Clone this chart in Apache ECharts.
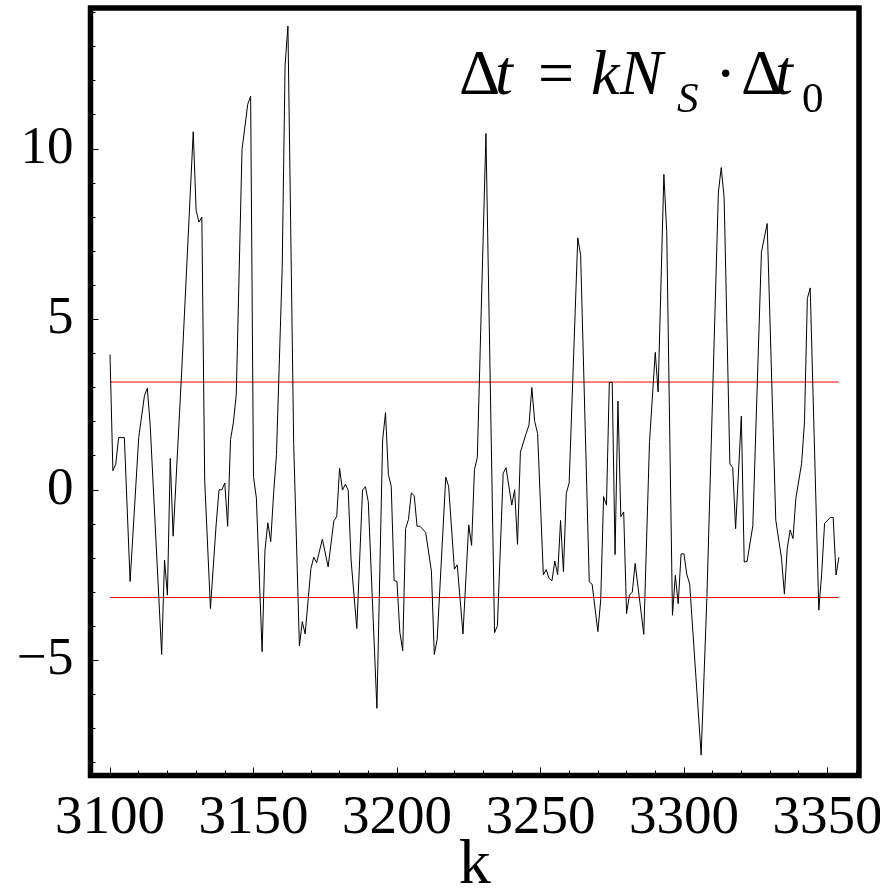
<!DOCTYPE html>
<html>
<head>
<meta charset="utf-8">
<script src="https://cdn.jsdelivr.net/npm/echarts@6/dist/echarts.min.js"></script>
<style>
  html, body { margin: 0; padding: 0; background: #fff; }
  #chart { width: 880px; height: 891px; }
</style>
</head>
<body>
<div id="chart"></div>
<script>
// k values (x) and corresponding Δt values (y)
const kValues = [
  3100,3101,3102,3103,3105,3107,3110,3112,3113,3114,3118,3119,3120,3121,3122,3125,3129,3130,3131,3132,
  3133,3135,3137,3138,3139,3140,3141,3142,3143,3144,3146,3148,3149,3150,3151,3153,3154,3155,3156,3157,
  3158,3160,3161,3162,3164,3166,3167,3168,3170,3171,3172,3174,3176,3178,3179,3180,3181,3182,3183,3184,
  3186,3188,3189,3190,3193,3195,3196,3197,3198,3199,3200,3201,3202,3203,3204,3205,3206,3207,3208,3210,
  3212,3213,3214,3217,3218,3220,3221,3223,3225,3226,3227,3228,3231,3234,3235,3237,3238,3240,3241,3242,
  3243,3245,3246,3247,3248,3249,3251,3252,3253,3254,3255,3256,3257,3258,3259,3260,3263,3264,3267,3268,
  3270,3271,3272,3273,3274,3275,3276,3277,3278,3279,3280,3281,3282,3283,3286,3288,3290,3291,3293,3294,
  3296,3297,3298,3299,3300,3301,3302,3306,3308,3312,3313,3314,3316,3317,3318,3320,3321,3322,3324,3327,
  3329,3332,3334,3335,3336,3337,3338,3339,3341,3342,3343,3344,3347,3348,3349,3351,3352,3353,3354
];
const dtValues = [
  3.97,0.56,0.75,1.53,1.53,-2.69,1.53,2.76,2.98,1.89,-4.83,-2.06,-3.09,0.92,-1.36,3.52,10.5,8.2,7.85,8.0,
  0.26,-3.48,-1.0,0.0,0.0,0.2,-1.07,1.47,1.98,2.8,9.98,11.31,11.54,0.39,-0.24,-4.75,-1.77,-0.97,-1.52,-0.12,
  1.03,6.49,12.45,13.6,1.35,-4.58,-3.87,-4.23,-2.31,-1.98,-2.14,-1.45,-2.26,-0.91,-0.79,0.63,-0.01,0.16,-0.01,-2.06,
  -4.07,-0.01,0.09,-0.35,-6.41,1.46,2.26,0.45,0.1,-2.66,-2.69,-4.18,-4.72,-1.14,-0.87,-0.09,-0.17,-1.07,-1.07,-1.25,
  -2.39,-4.83,-4.39,0.37,0.1,-2.33,-2.2,-4.23,-1.03,-1.63,0.59,0.95,10.45,-4.19,-3.99,0.48,0.65,-0.45,0.0,-1.6,
  1.1,1.65,1.9,3.0,2.0,1.65,-2.49,-2.34,-2.6,-2.67,-2.09,-2.49,-0.9,-2.4,-0.1,0.2,7.39,6.88,-2.70,-2.77,
  -4.16,-3.23,-0.2,-0.45,3.15,3.15,-1.9,2.6,-0.79,-0.65,-3.63,-3.09,-3.0,-2.16,-4.24,1.41,4.03,2.87,9.25,7.57,
  -3.68,-2.51,-3.34,-1.88,-1.88,-2.48,-2.77,-7.78,-3.13,8.73,9.45,8.56,0.76,0.65,-1.14,2.16,-2.12,-2.1,-1.06,6.97,
  7.81,-0.89,-2.01,-3.06,-1.72,-1.18,-1.43,-0.25,0.77,1.99,5.61,5.92,-3.53,-2.45,-0.99,-0.81,-0.81,-2.5,-1.98
];
const threshold = 3.16;
const xTickLabels = [3100, 3150, 3200, 3250, 3300, 3350];
const xMinorTicks = [3110,3120,3130,3140,3160,3170,3180,3190,3210,3220,3230,3240,3260,3270,3280,3290,3310,3320,3330,3340,3360];
const yTickLabels = [-5, 0, 5, 10];
const yMinorTicks = [-8,-7,-6,-4,-3,-2,-1,1,2,3,4,6,7,8,9,11,12,13,14];
// formula pieces: text, italic?, subscript?
const formulaText = ['\u0394', 't', '=', 'k', 'N', 'S', '\u00b7', '\u0394', 't', '0'];
const formulaItalic = [false, true, false, true, true, true, false, false, true, false];
const formulaSub = [false, false, false, false, false, true, false, false, false, true];

const FAM = "Liberation Serif";
const X_MIN = 3093.2, X_MAX = 3361.0;
const Y_MIN = -8.38, Y_MAX = 14.13;

const chart = echarts.init(document.getElementById('chart'), null, { renderer: 'canvas' });

const mainData = kValues.map((k, i) => [k, dtValues[i]]);
const kFirst = kValues[0], kLast = kValues[kValues.length - 1];

// left positions of formula glyphs (layout), main baseline and subscript baseline
const formulaX = [459, 495, 538, 591, 620, 677, 715, 741, 775, 802];
const MAIN_SIZE = 64, SUB_SIZE = 43;
const MAIN_BASE = 99, SUB_BASE = 115;
const formulaGraphics = formulaText.map((t, i) => {
  const size = formulaSub[i] ? SUB_SIZE : MAIN_SIZE;
  const base = formulaSub[i] ? SUB_BASE : MAIN_BASE;
  return {
    type: 'text', x: formulaX[i], y: base - 0.3375 * size, z: 10,
    style: {
      text: t,
      font: (formulaItalic[i] ? 'italic ' : '') + size + 'px "' + FAM + '"',
      fill: '#000', align: 'left', verticalAlign: 'middle'
    }
  };
});

const option = {
  animation: false,
  backgroundColor: '#fff',
  grid: {
    left: 90.5, right: 21, top: 8, bottom: 115.5,
    outerBoundsMode: 'none', containLabel: false,
    show: true, borderColor: '#000', borderWidth: 5.5, backgroundColor: 'transparent'
  },
  xAxis: [
    {
      type: 'value', min: X_MIN, max: X_MAX,
      axisLine: { show: false, onZero: false }, splitLine: { show: false },
      axisTick: { show: true, inside: true, length: 8, customValues: xTickLabels, lineStyle: { color: '#000', width: 1 } },
      axisLabel: { customValues: xTickLabels, fontFamily: FAM, fontSize: 55, color: '#000', margin: 16,
        formatter: v => String(v) },
      name: 'k', nameLocation: 'middle', nameGap: 59, nameMoveOverlap: false,
      nameTextStyle: { fontFamily: FAM, fontSize: 64, color: '#000' }
    },
    {
      type: 'value', min: X_MIN, max: X_MAX, position: 'bottom',
      axisLine: { show: false, onZero: false }, splitLine: { show: false }, axisLabel: { show: false },
      axisTick: { show: true, inside: true, length: 5, customValues: xMinorTicks, lineStyle: { color: '#000', width: 1 } }
    }
  ],
  yAxis: [
    {
      type: 'value', min: Y_MIN, max: Y_MAX,
      axisLine: { show: false, onZero: false }, splitLine: { show: false },
      axisTick: { show: true, inside: true, length: 8, customValues: yTickLabels, lineStyle: { color: '#000', width: 1 } },
      axisLabel: {
        customValues: yTickLabels, fontFamily: FAM, fontSize: 53, color: '#000', margin: 17,
        formatter: v => (v < 0 ? '\u2212' + Math.abs(v) : String(v))
      }
    },
    {
      type: 'value', min: Y_MIN, max: Y_MAX, position: 'left',
      axisLine: { show: false, onZero: false }, splitLine: { show: false }, axisLabel: { show: false },
      axisTick: { show: true, inside: true, length: 5, customValues: yMinorTicks, lineStyle: { color: '#000', width: 1 } }
    }
  ],
  series: [
    {
      type: 'line', data: [[kFirst, threshold], [kLast, threshold]],
      xAxisIndex: 0, yAxisIndex: 0, symbol: 'none', silent: true,
      lineStyle: { color: '#ff0000', width: 1 }
    },
    {
      type: 'line', data: [[kFirst, -threshold], [kLast, -threshold]],
      xAxisIndex: 0, yAxisIndex: 0, symbol: 'none', silent: true,
      lineStyle: { color: '#ff0000', width: 1 }
    },
    {
      type: 'line', data: mainData, xAxisIndex: 0, yAxisIndex: 0,
      symbol: 'none', showSymbol: false,
      lineStyle: { color: '#000', width: 1 }, z: 3
    }
  ],
  graphic: formulaGraphics
};
chart.setOption(option);
</script>
</body>
</html>
